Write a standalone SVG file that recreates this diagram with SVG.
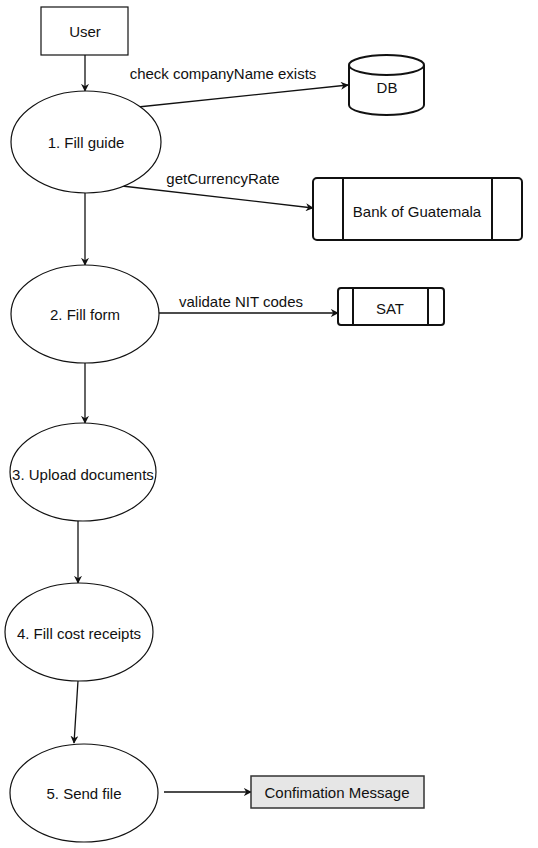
<svg xmlns="http://www.w3.org/2000/svg" width="538" height="848" viewBox="0 0 538 848">
<style>
text{font-family:"Liberation Sans",Arial,sans-serif;font-size:15px;fill:#111;text-anchor:middle}
.n{fill:#fff;stroke:#111;stroke-width:1.2}
.b{fill:#fff;stroke:#111;stroke-width:2}
.c{fill:none;stroke:#111;stroke-width:1.3}
</style>
<defs>
<marker id="ah" viewBox="0 0 10 10" refX="9" refY="5" markerWidth="8" markerHeight="8" markerUnits="userSpaceOnUse" orient="auto">
<path d="M0,0 L10,5 L0,10 L3,5 z" fill="#111"/>
</marker>
</defs>
<rect width="538" height="848" fill="#fff"/>
<g id="connectors">
<line class="c" x1="85" y1="55" x2="85" y2="91" marker-end="url(#ah)"/>
<line class="c" x1="138" y1="107" x2="348" y2="85" marker-end="url(#ah)"/>
<line class="c" x1="122" y1="186" x2="313" y2="208" marker-end="url(#ah)"/>
<line class="c" x1="85" y1="193" x2="85" y2="265" marker-end="url(#ah)"/>
<line class="c" x1="159" y1="313" x2="338" y2="313" marker-end="url(#ah)"/>
<line class="c" x1="85" y1="363" x2="85" y2="423" marker-end="url(#ah)"/>
<line class="c" x1="78" y1="521" x2="78" y2="583" marker-end="url(#ah)"/>
<line class="c" x1="78" y1="681" x2="74" y2="743" marker-end="url(#ah)"/>
<line class="c" x1="164" y1="792" x2="251" y2="792" marker-end="url(#ah)"/>
<text x="223" y="79">check companyName exists</text>
<text x="223" y="184">getCurrencyRate</text>
<text x="241" y="307">validate NIT codes</text>
</g>
<g id="user"><rect class="n" x="41" y="7" width="87" height="48"/><text x="85" y="37">User</text></g>
<g id="db">
<path class="b" d="M349,65 A37.5,10 0 0 1 424,65 L424,105 A37.5,10 0 0 1 349,105 Z"/>
<path class="b" d="M349,65 A37.5,10 0 0 0 424,65" fill="none"/>
<text x="387" y="93">DB</text>
</g>
<g id="step1"><ellipse class="n" cx="86" cy="142" rx="75" ry="51"/><text x="86" y="148">1. Fill guide</text></g>
<g id="bank">
<rect class="b" x="313" y="178" width="209" height="62" rx="4"/>
<line class="b" x1="343" y1="178" x2="343" y2="240"/>
<line class="b" x1="492" y1="178" x2="492" y2="240"/>
<text x="417" y="217">Bank of Guatemala</text>
</g>
<g id="step2"><ellipse class="n" cx="85" cy="314" rx="74" ry="49"/><text x="85" y="320">2. Fill form</text></g>
<g id="sat">
<rect class="b" x="338" y="288" width="106" height="37" rx="3"/>
<line class="b" x1="353" y1="288" x2="353" y2="325"/>
<line class="b" x1="428" y1="288" x2="428" y2="325"/>
<text x="390" y="314">SAT</text>
</g>
<g id="step3"><ellipse class="n" cx="83" cy="472" rx="73" ry="49"/><text x="83" y="480">3. Upload documents</text></g>
<g id="step4"><ellipse class="n" cx="79" cy="632" rx="74" ry="49"/><text x="79" y="639">4. Fill cost receipts</text></g>
<g id="step5"><ellipse class="n" cx="84" cy="793" rx="74" ry="49"/><text x="84" y="799">5. Send file</text></g>
<g id="confirm"><rect x="251" y="776" width="173" height="32" fill="#e6e6e6" stroke="#333" stroke-width="1.5"/><text x="337" y="798">Confimation Message</text></g>
</svg>
